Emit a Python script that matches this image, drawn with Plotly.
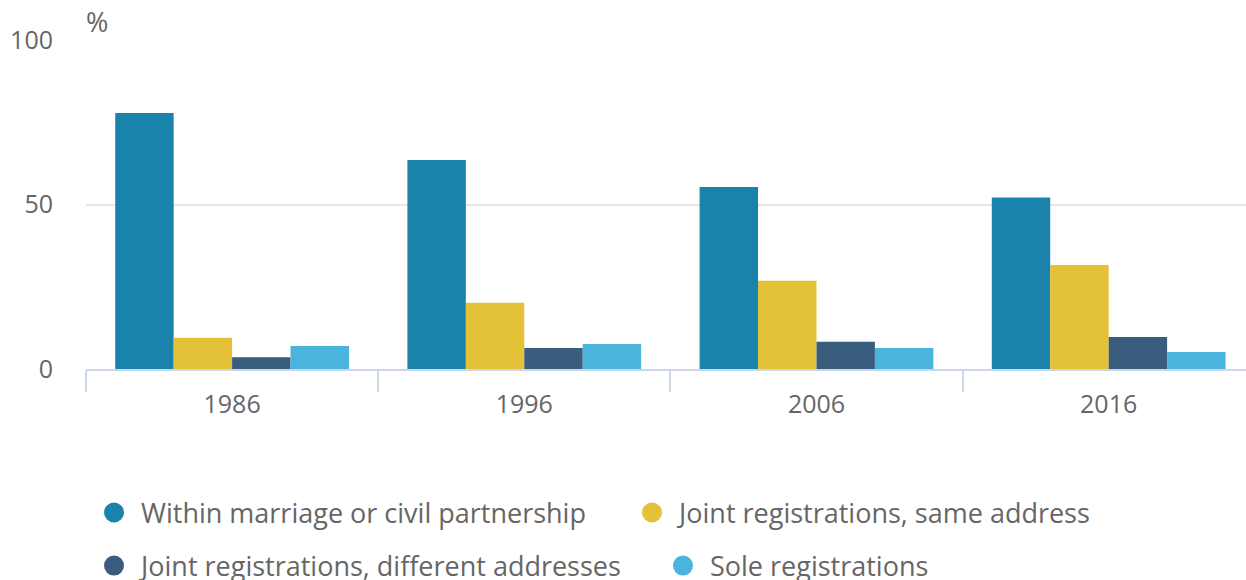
import plotly.graph_objects as go

years = ["1986", "1996", "2006", "2016"]
within_marriage = [77.8, 63.5, 55.3, 52.1]
joint_same = [9.5, 20.1, 26.8, 31.6]
joint_different = [3.6, 6.4, 8.3, 9.7]
sole = [7.0, 7.6, 6.4, 5.2]

series = [
    ("Within marriage or civil partnership", within_marriage, "#1a83ab"),
    ("Joint registrations, same address", joint_same, "#e3c238"),
    ("Joint registrations, different addresses", joint_different, "#3a5d7e"),
    ("Sole registrations", sole, "#4ab4dc"),
]

fig = go.Figure()
for name, vals, col in series:
    fig.add_trace(go.Bar(x=years, y=vals, name=name, marker_color=col,
                         marker_line_width=0, showlegend=False))

# one legend per entry so the rows sit like the original
legend_ids = ["legend", "legend2", "legend3", "legend4"]
for (name, vals, col), lid in zip(series, legend_ids):
    fig.add_trace(go.Scatter(x=[None], y=[None], mode="markers",
                             name="\u00a0" + name, legend=lid,
                             marker=dict(symbol="circle", size=16, color=col,
                                         line=dict(color=col, width=4))))

leg_style = dict(orientation="h", xanchor="left", yanchor="middle",
                 font=dict(size=27, color="#666666"), bgcolor="rgba(0,0,0,0)")

fig.update_layout(
    width=1246, height=600,
    margin=dict(l=86, r=0, t=40, b=231),
    paper_bgcolor="white", plot_bgcolor="white",
    font=dict(family="Open Sans", size=25, color="#666666"),
    barmode="group", bargap=0.2, bargroupgap=0,
    legend=dict(x=0.0069, y=-0.4377, **leg_style),
    legend2=dict(x=0.4707, y=-0.4377, **leg_style),
    legend3=dict(x=0.0069, y=-0.5988, **leg_style),
    legend4=dict(x=0.4974, y=-0.5988, **leg_style),
    annotations=[dict(text="%", xref="paper", yref="paper", x=0, y=1.0,
                      xanchor="left", yanchor="bottom", showarrow=False,
                      font=dict(size=27, color="#666666"), yshift=-2, xshift=-2)],
)
fig.update_xaxes(range=[-0.5, 3.47], showline=True, linecolor="#ccd6eb", linewidth=2,
                 ticks="outside", tickson="boundaries", ticklen=21, tickcolor="#ccd6eb",
                 tickwidth=2, showgrid=False, ticklabelstandoff=12)
fig.update_yaxes(range=[0, 100], tickvals=[0, 50, 100], showgrid=True,
                 gridcolor="#e6e6e6", gridwidth=2, zeroline=False,
                 ticklabelstandoff=32)

fig.write_html("out.html", config={"displayModeBar": False},
               post_script="document.body.style.margin='0';document.body.style.overflow='hidden';")
